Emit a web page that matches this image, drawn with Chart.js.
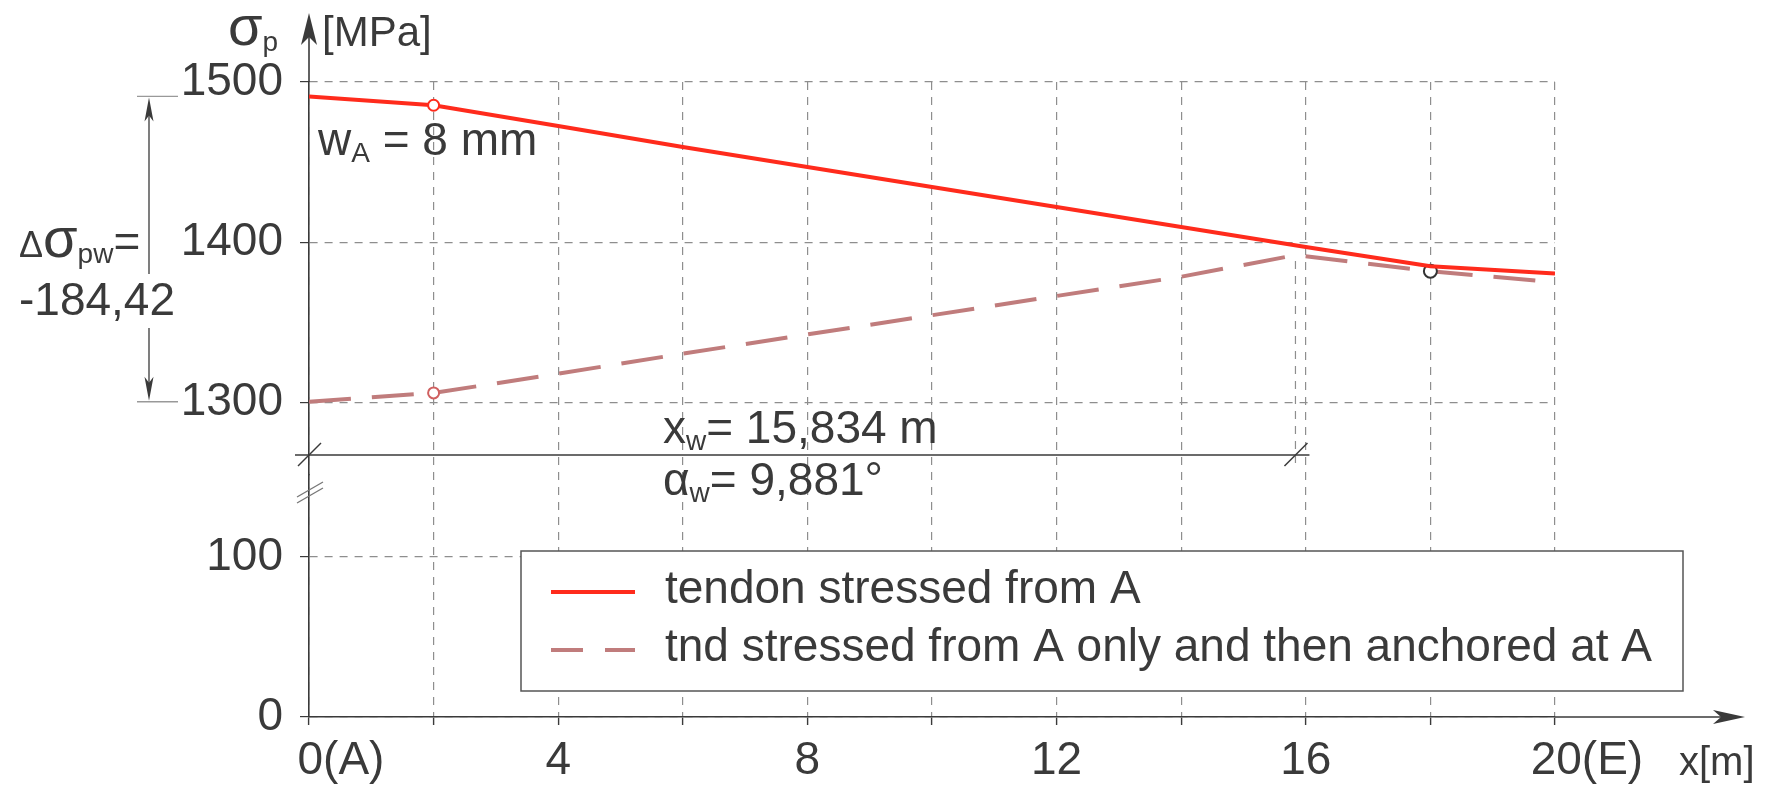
<!DOCTYPE html>
<html>
<head>
<meta charset="utf-8">
<script src="https://cdn.jsdelivr.net/npm/chart.js@4.4.1/dist/chart.umd.min.js"></script>
<style>
  html, body { margin: 0; padding: 0; background: #fff; }
  canvas { display: block; }
</style>
</head>
<body>
<canvas id="chart" width="1766" height="798"></canvas>
<script>
'use strict';

// distance from anchor A [m] and prestress [MPa]
var xStressed = [0, 2, 4, 6, 8, 10, 12, 14, 16, 18, 20];
var sigmaStressed = [1491, 1485.5, 1472.5, 1459.5, 1447, 1434.5, 1422, 1409.5, 1397, 1385, 1380.5];

var xAnchored = [0, 2, 4, 6, 8, 10, 12, 14, 15.834, 18, 20];
var sigmaAnchored = [1300.5, 1306, 1318, 1330.5, 1342.5, 1354.5, 1366.5, 1378.5, 1392, 1382, 1375];

var stressedMarks = [2];
var anchoredMarks = [2, 18];

var seriesLabels = ['tendon stressed from A', 'tnd stressed from A only and then anchored at A'];

var xTicks = [0, 2, 4, 6, 8, 10, 12, 14, 16, 18, 20];
var xTickLabels = ['0(A)', '', '4', '', '8', '', '12', '', '16', '', '20(E)'];
var yUpperTicks = [1300, 1400, 1500];
var yLowerTicks = [0, 100];

var xw = 15.834;
var xwText = '= 15,834 m';
var alphaText = '= 9,881\u00b0';
var slipText = ' = 8 mm';
var deltaText = '-184,42';

var font = '"Liberation Sans", Arial, sans-serif';
var ink = '#3a3a3a';
var gridColor = '#8e8e8e';
var red = '#ff2b1c';
var rose = '#c07c7c';

function points(xs, ys) {
    return xs.map(function (x, i) { return {x: x, y: ys[i]}; });
}

function line(ctx, x1, y1, x2, y2) {
    ctx.beginPath();
    ctx.moveTo(x1, y1);
    ctx.lineTo(x2, y2);
    ctx.stroke();
}

function arrowHead(ctx, tx, ty, dx, dy, len, half) {
    var bx = tx - dx * len, by = ty - dy * len;
    var nx = -dy, ny = dx;
    ctx.beginPath();
    ctx.moveTo(tx, ty);
    ctx.lineTo(bx + nx * half, by + ny * half);
    ctx.lineTo(tx - dx * len * 0.75, ty - dy * len * 0.75);
    ctx.lineTo(bx - nx * half, by - ny * half);
    ctx.closePath();
    ctx.fill();
}

// text made of pieces [text, size, dy]
function pieces(ctx, x, y, parts) {
    parts.forEach(function (p) {
        ctx.font = p[1] + 'px ' + font;
        ctx.fillText(p[0], x, y + (p[2] || 0));
        x += ctx.measureText(p[0]).width;
    });
    return x;
}

var decor = {
    id: 'decor',
    beforeDraw: function (chart) {
        var ctx = chart.ctx;
        ctx.save();
        ctx.fillStyle = '#fff';
        ctx.fillRect(0, 0, chart.width, chart.height);
        ctx.restore();
    },
    afterDraw: function (chart) {
        var ctx = chart.ctx;
        var area = chart.chartArea;
        var xs = chart.scales.x, yt = chart.scales.yTop;
        var x0 = area.left;
        var i;

        ctx.save();
        ctx.strokeStyle = ink;
        ctx.fillStyle = ink;
        ctx.lineWidth = 1.6;
        ctx.textBaseline = 'alphabetic';

        // axis arrows
        line(ctx, x0, area.top, x0, 20);
        arrowHead(ctx, x0, 13, 0, -1, 32, 8);
        line(ctx, area.right, area.bottom, 1735, area.bottom);
        arrowHead(ctx, 1745, area.bottom, 1, 0, 32, 7);

        // axis break
        ctx.lineWidth = 1.3;
        ctx.strokeStyle = '#777';
        line(ctx, x0 - 12, 497, x0 + 14, 482);
        line(ctx, x0 - 12, 503, x0 + 14, 488);

        // axis titles
        pieces(ctx, 228, 45, [['\u03c3', 56], ['p', 28, 6]]);
        pieces(ctx, 322, 46, [['[MPa]', 42]]);
        pieces(ctx, 1679, 775, [['x[m]', 40]]);

        // slip at anchor
        pieces(ctx, 318, 155, [['w', 46], ['A', 28, 7], [slipText, 46]]);

        // vertical dimension of the stress loss
        var dimX = 149;
        var yA = yt.getPixelForValue(sigmaStressed[0]);
        var yB = yt.getPixelForValue(sigmaAnchored[0]);
        ctx.strokeStyle = '#999';
        ctx.lineWidth = 1.3;
        line(ctx, 137, yA, 178, yA);
        line(ctx, 137, yB, 178, yB);
        ctx.strokeStyle = ink;
        line(ctx, dimX, yA + 10, dimX, 274);
        line(ctx, dimX, 328, dimX, yB - 10);
        arrowHead(ctx, dimX, yA + 1, 0, -1, 24, 4.5);
        arrowHead(ctx, dimX, yB - 1, 0, 1, 24, 4.5);
        pieces(ctx, 19, 257, [['\u0394', 36], ['\u03c3', 56], ['pw', 28, 6], ['=', 46]]);
        pieces(ctx, 19, 315, [[deltaText, 46]]);

        // horizontal dimension of the anchor set length
        var yDim = yt.getPixelForValue(yt.min) - 20;
        var xW = xs.getPixelForValue(xw);
        ctx.strokeStyle = gridColor;
        ctx.lineWidth = 1.2;
        ctx.setLineDash([8, 7]);
        line(ctx, xW, yt.getPixelForValue(sigmaAnchored[8]) + 6, xW, yDim + 8);
        ctx.setLineDash([]);
        ctx.strokeStyle = ink;
        ctx.lineWidth = 1.5;
        line(ctx, x0 - 14, yDim, xW + 14, yDim);
        line(ctx, x0 - 11, yDim + 11, x0 + 12, yDim - 12);
        line(ctx, xW - 11, yDim + 11, xW + 12, yDim - 12);
        pieces(ctx, 663, 443, [['x', 46], ['w', 28, 7], [xwText, 46]]);
        pieces(ctx, 663, 495, [['\u03b1', 46], ['w', 28, 7], [alphaText, 46]]);

        // legend box
        var lx = 521, ly = 551, lw = 1162, lh = 140;
        ctx.fillStyle = '#fff';
        ctx.fillRect(lx, ly, lw, lh);
        ctx.strokeStyle = '#555';
        ctx.lineWidth = 1.5;
        ctx.strokeRect(lx, ly, lw, lh);
        var rows = [592, 650];
        var dashes = [[], [32, 22]];
        for (i = 0; i < chart.data.datasets.length; i++) {
            var ds = chart.data.datasets[i];
            ctx.strokeStyle = ds.borderColor;
            ctx.lineWidth = ds.borderWidth;
            ctx.setLineDash(dashes[i]);
            line(ctx, 551, rows[i], 635, rows[i]);
            ctx.setLineDash([]);
            ctx.fillStyle = ink;
            ctx.font = '46px ' + font;
            ctx.textBaseline = 'middle';
            ctx.fillText(ds.label, 665, rows[i] - 2);
        }
        ctx.restore();
    }
};

function markRadius(marks) {
    return function (c) {
        if (marks.indexOf(c.raw.x) < 0) {
            return 0;
        }
        return c.raw.x === 18 ? 6.5 : 5.5;
    };
}

function plainNumber(v) {
    return String(v);
}

var tickFont = {family: font, size: 46};

new Chart(document.getElementById('chart'), {
    type: 'line',
    data: {
        datasets: [
            {
                label: seriesLabels[0],
                data: points(xStressed, sigmaStressed),
                yAxisID: 'yTop',
                borderColor: red,
                borderWidth: 4,
                tension: 0,
                pointRadius: markRadius(stressedMarks),
                pointBorderColor: red,
                pointBackgroundColor: '#fff',
                pointBorderWidth: 2
            },
            {
                label: seriesLabels[1],
                data: points(xAnchored, sigmaAnchored),
                yAxisID: 'yTop',
                borderColor: rose,
                borderWidth: 4,
                borderDash: [42, 21],
                tension: 0,
                pointRadius: markRadius(anchoredMarks),
                pointBorderColor: function (c) { return c.raw.x === 18 ? '#333' : '#d06060'; },
                pointBackgroundColor: '#fff',
                pointBorderWidth: 2
            }
        ]
    },
    options: {
        responsive: false,
        animation: false,
        devicePixelRatio: 1,
        layout: {padding: {left: 0, right: 211, top: 82, bottom: 0}},
        plugins: {legend: {display: false}, tooltip: {enabled: false}},
        scales: {
            x: {
                type: 'linear',
                min: 0,
                max: 20,
                afterBuildTicks: function (s) { s.ticks = xTicks.map(function (v) { return {value: v}; }); },
                afterFit: function (s) { s.height = 81; },
                border: {display: true, color: ink, width: 1.6, dash: [8, 7]},
                grid: {color: gridColor, lineWidth: 1.2, tickLength: 8, tickColor: ink, tickWidth: 1.4, tickBorderDash: []},
                ticks: {
                    autoSkip: false,
                    maxRotation: 0,
                    padding: 9,
                    color: ink,
                    font: tickFont,
                    callback: function (v) {
                        var t = xTickLabels[xTicks.indexOf(v)];
                        return t.indexOf('(') > 0 ? '     ' + t : t;
                    }
                }
            },
            yBot: {
                type: 'linear',
                position: 'left',
                stack: 'sigma',
                stackWeight: 242,
                weight: 0,
                min: 0,
                max: 151.25,
                afterBuildTicks: function (s) { s.ticks = yLowerTicks.map(function (v) { return {value: v}; }); },
                afterFit: function (s) { s.width = 309; },
                border: {display: true, color: ink, width: 1.6, dash: [8, 7]},
                grid: {color: gridColor, lineWidth: 1.2, tickLength: 9, tickColor: ink, tickWidth: 1.2, tickBorderDash: []},
                ticks: {padding: 17, color: ink, font: tickFont, callback: plainNumber}
            },
            yTop: {
                type: 'linear',
                position: 'left',
                stack: 'sigma',
                stackWeight: 393,
                weight: 1,
                min: 1254.8,
                max: 1500,
                afterBuildTicks: function (s) { s.ticks = yUpperTicks.map(function (v) { return {value: v}; }); },
                afterFit: function (s) { s.width = 309; },
                border: {display: true, color: ink, width: 1.6, dash: [8, 7]},
                grid: {color: gridColor, lineWidth: 1.2, tickLength: 9, tickColor: ink, tickWidth: 1.2, tickBorderDash: []},
                ticks: {padding: 17, color: ink, font: tickFont, callback: plainNumber}
            }
        }
    },
    plugins: [decor]
});
</script>
</body>
</html>
